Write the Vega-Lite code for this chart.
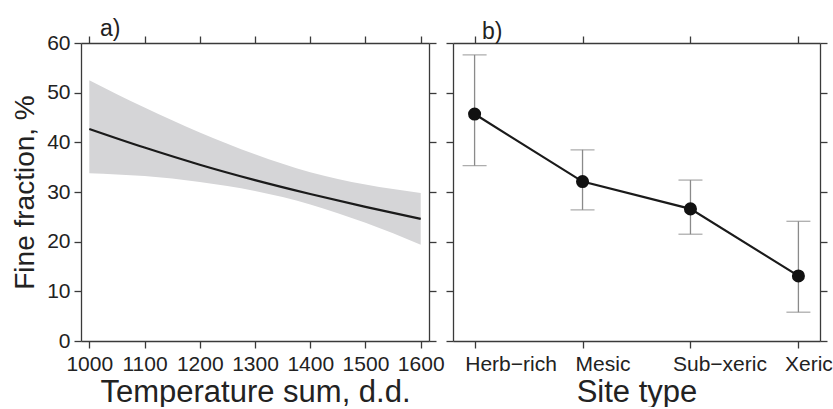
{
  "$schema": "https://vega.github.io/schema/vega-lite/v6.json",
  "padding": {"left": 11, "top": 18, "right": 0, "bottom": 0},
  "background": "white",
  "config": {
    "font": "Liberation Sans",
    "view": {"stroke": null},
    "axis": {
      "grid": false,
      "domainColor": "#3a3a3a",
      "domainWidth": 1.3,
      "tickColor": "#3a3a3a",
      "tickWidth": 1.3,
      "tickSize": 7,
      "labelFont": "Liberation Sans",
      "labelFontSize": 21,
      "labelColor": "#222222",
      "titleFont": "Liberation Sans",
      "titleFontSize": 31,
      "titleFontWeight": "normal",
      "titleColor": "#222222",
      "labelPadding": 5,
      "titlePadding": 3
    },
    "title": {"font": "Liberation Sans", "fontSize": 23, "fontWeight": "normal", "color": "#222222", "anchor": "start", "frame": "group"}
  },
  "spacing": 0,
  "hconcat": [
    {
      "width": 348,
      "height": 298,
      "title": {"text": "a)", "dx": 19, "dy": 11, "offset": 2},
      "data": {"values": [
        {"temp": 1000, "fit": 42.7, "lower": 33.8, "upper": 52.5},
        {"temp": 1100, "fit": 38.95, "lower": 33.2, "upper": 47.0},
        {"temp": 1200, "fit": 35.5, "lower": 32.0, "upper": 42.0},
        {"temp": 1300, "fit": 32.4, "lower": 30.2, "upper": 37.6},
        {"temp": 1400, "fit": 29.6, "lower": 27.5, "upper": 34.0},
        {"temp": 1500, "fit": 27.0, "lower": 23.8, "upper": 31.5},
        {"temp": 1600, "fit": 24.6, "lower": 19.4, "upper": 29.8}
      ]},
      "layer": [
        {
          "mark": {"type": "area", "color": "#d5d5d7", "interpolate": "monotone"},
          "encoding": {
            "x": {"field": "temp", "type": "quantitative", "scale": {"domain": [985, 1615], "nice": false, "zero": false},
                  "axis": {"orient": "bottom", "values": [1000, 1100, 1200, 1300, 1400, 1500, 1600], "format": "d", "title": "Temperature sum, d.d."}},
            "y": {"field": "lower", "type": "quantitative", "scale": {"domain": [0, 60], "nice": false},
                  "axis": {"orient": "left", "values": [0, 10, 20, 30, 40, 50, 60], "labelPadding": 4, "titleFontSize": 28, "titlePadding": 7, "title": "Fine fraction, %"}},
            "y2": {"field": "upper"}
          }
        },
        {
          "mark": {"type": "line", "color": "#1a1a1a", "strokeWidth": 2.2, "interpolate": "monotone"},
          "encoding": {
            "x": {"field": "temp", "type": "quantitative",
                  "axis": {"orient": "top", "values": [1000, 1100, 1200, 1300, 1400, 1500, 1600], "labels": false, "title": null}},
            "y": {"field": "fit", "type": "quantitative",
                  "axis": {"orient": "right", "values": [0, 10, 20, 30, 40, 50, 60], "labels": false, "title": null}}
          }
        }
      ],
      "resolve": {"axis": {"x": "independent", "y": "independent"}}
    },
    {
      "width": 367,
      "height": 298,
      "title": {"text": "b)", "dx": 29, "dy": 11, "offset": 2},
      "data": {"values": [
        {"site": "Herb−rich", "mean": 45.7, "lo": 35.3, "hi": 57.6},
        {"site": "Mesic", "mean": 32.1, "lo": 26.4, "hi": 38.5},
        {"site": "Sub−xeric", "mean": 26.6, "lo": 21.5, "hi": 32.4},
        {"site": "Xeric", "mean": 13.1, "lo": 5.8, "hi": 24.1}
      ]},
      "layer": [
        {
          "mark": {"type": "rule", "color": "#8a8a8a", "strokeWidth": 1.3},
          "encoding": {
            "x": {"field": "site", "type": "nominal", "sort": null, "scale": {"type": "point", "padding": 0.2},
                  "axis": {"orient": "bottom", "labelAngle": 0, "title": "Site type",
                           "labelOffset": {"expr": "datum.value == 'Herb−rich' ? 36 : datum.value == 'Mesic' ? 20 : datum.value == 'Sub−xeric' ? 29 : 10"}}},
            "y": {"field": "lo", "type": "quantitative", "scale": {"domain": [0, 60], "nice": false},
                  "axis": {"orient": "left", "values": [0, 10, 20, 30, 40, 50, 60], "labels": false, "title": null}},
            "y2": {"field": "hi"}
          }
        },
        {
          "mark": {"type": "tick", "color": "#8a8a8a", "size": 24, "thickness": 1.3},
          "encoding": {
            "x": {"field": "site", "type": "nominal", "sort": null, "axis": null},
            "y": {"field": "hi", "type": "quantitative", "axis": null}
          }
        },
        {
          "mark": {"type": "tick", "color": "#8a8a8a", "size": 24, "thickness": 1.3},
          "encoding": {
            "x": {"field": "site", "type": "nominal", "sort": null, "axis": null},
            "y": {"field": "lo", "type": "quantitative", "axis": null}
          }
        },
        {
          "mark": {"type": "line", "color": "#1a1a1a", "strokeWidth": 2.2},
          "encoding": {
            "x": {"field": "site", "type": "nominal", "sort": null,
                  "axis": {"orient": "top", "labels": false, "title": null}},
            "y": {"field": "mean", "type": "quantitative",
                  "axis": {"orient": "right", "values": [0, 10, 20, 30, 40, 50, 60], "labels": false, "title": null}}
          }
        },
        {
          "mark": {"type": "point", "filled": true, "color": "#111111", "size": 170, "opacity": 1},
          "encoding": {
            "x": {"field": "site", "type": "nominal", "sort": null, "axis": null},
            "y": {"field": "mean", "type": "quantitative", "axis": null}
          }
        }
      ],
      "resolve": {"axis": {"x": "independent", "y": "independent"}}
    }
  ]
}
